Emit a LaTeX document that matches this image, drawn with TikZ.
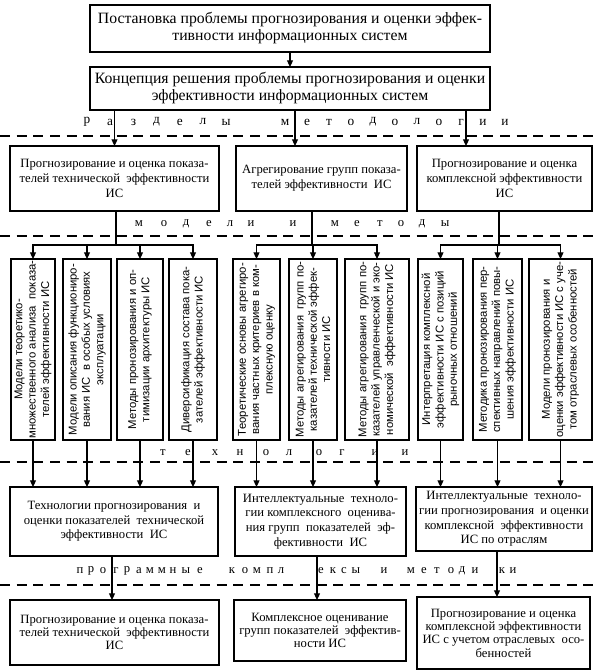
\documentclass[tikz,border=0pt]{standalone}
\usepackage{fontspec}
\setmainfont{Liberation Serif}
\setsansfont{Liberation Sans}
\usetikzlibrary{arrows.meta}
\begin{document}
\begin{tikzpicture}[x=0.75pt,y=-0.75pt,
  box/.style={draw, line width=0.8pt, inner sep=0pt, outer sep=0pt, align=center,
    font=\fontsize{9.5}{11.25}\selectfont},
  topbox/.style={box, font=\fontsize{11.8}{12.75}\selectfont, minimum width=300pt},
  tallbox/.style={draw, line width=0.8pt, inner sep=0pt, outer sep=0pt, minimum height=135.75pt},
  talltext/.style={rotate=90, align=center, font=\sffamily\fontsize{8.5}{10}\selectfont, inner sep=0pt},
  conn/.style={line width=0.8pt},
  arr/.style={conn, -{Triangle[length=5pt,width=4.5pt]}},
  sep/.style={line width=1.5pt, dash pattern=on 7.5pt off 5pt},
  lbl/.style={font=\fontsize{9.5}{10}\selectfont, inner sep=0pt}]
\useasboundingbox (0,0) rectangle (597,671);

% separators
\coordinate (s1l) at (0,136);  \coordinate (s1r) at (597,136);
\coordinate (s2l) at (0,236);  \coordinate (s2r) at (597,236);
\coordinate (s3l) at (0,462);  \coordinate (s3r) at (597,462);
\coordinate (s4l) at (0,585);  \coordinate (s4r) at (597,585);
\draw[sep] (s1l) -- (s1r);
\draw[sep] (s2l) -- (s2r);
\draw[sep] (s3l) -- (s3r);
\draw[sep] (s4l) -- (s4r);

% top boxes
\node[topbox, minimum height=35.25pt] (b1) at (290,28.5)
  {Постановка проблемы прогнозирования и оценки эффек-\\тивности информационных систем};
\node[topbox, minimum height=32.25pt] (b2) at (290,88.5)
  {Концепция решения проблемы прогнозирования и оценки\\эффективности информационных систем};

% row 2
\node[box, minimum width=156.75pt, minimum height=48.75pt] (A) at (114.5,178.5)
  {Прогнозирование и оценка показа-\\телей технической \ эффективности\\ИС};
\node[box, minimum width=128.25pt, minimum height=48.75pt] (B) at (321.5,178.5)
  {Агрегирование групп показа-\\телей эффективности \ ИС};
\node[box, minimum width=131.25pt, minimum height=48.75pt] (C) at (504.5,178.5)
  {Прогнозирование и оценка\\комплексной эффективности\\ИС};

% tall boxes
\node[tallbox, minimum width=33pt]    (t1)  at (33,349.5) {};
\node[tallbox, minimum width=36pt]    (t2)  at (87,349.5) {};
\node[tallbox, minimum width=34.5pt]  (t3)  at (140,349.5) {};
\node[tallbox, minimum width=36pt]    (t4)  at (193,349.5) {};
\node[tallbox, minimum width=35.25pt] (t5)  at (256.5,349.5) {};
\node[tallbox, minimum width=36pt]    (t6)  at (313,349.5) {};
\node[tallbox, minimum width=48pt]    (t7)  at (377,349.5) {};
\node[tallbox, minimum width=33.75pt] (t8)  at (440.5,349.5) {};
\node[tallbox, minimum width=36.75pt] (t9)  at (497.5,349.5) {};
\node[tallbox, minimum width=47.25pt] (t10) at (560.5,349.5) {};

\node[talltext] (x1) at (t1) {Модели теоретико-\\множественного анализа \ показа-\\телей эффективности ИС};
\node[talltext] (x2) at (t2) {Модели описания функциониро-\\вания ИС \ в особых условиях\\эксплуатации};
\node[talltext] (x3) at (t3) {Методы пронозирования и оп-\\тимизации архитектуры ИС};
\node[talltext] (x4) at (t4) {Диверсификация состава пока-\\зателей эффективности ИС};
\node[talltext] (x5) at (t5) {Теоретические основы агрегиро-\\вания частных критериев в ком-\\плексную оценку};
\node[talltext] (x6) at (t6) {Методы агрегирования \ групп по-\\казателей технической эффек-\\тивности ИС};
\node[talltext] (x7) at (t7) {Методы агрегирования \ групп по-\\казателей управленческой и эко-\\номической \ эффективности ИС};
\node[talltext] (x8) at (t8) {Интерпретация комплексной\\эффективности ИС с позиций\\рыночных отношений};
\node[talltext] (x9) at (t9) {Методика пронозирования пер-\\спективных направлений повы-\\шения эффективности ИС};
\node[talltext] (x10) at (t10) {Модели пронозирования и\\оценки эффективности ИС с уче-\\том отраслевых особенностей};

% row 4
\node[box, minimum width=156pt, minimum height=51.75pt, font=\fontsize{9.5}{11}\selectfont] (D) at (114,521.5)
  {Технологии прогнозирования \ и\\оценки показателей \ технической\\эффективности \ ИС};
\node[box, minimum width=128.25pt, minimum height=51.75pt, font=\fontsize{9.5}{11}\selectfont] (E) at (320.5,521.5)
  {Интеллектуальные \ техноло-\\гии комплексного \ оценива-\\ния групп \ показателей \ эф-\\фективности \ ИС};
\node[box, minimum width=132pt, minimum height=48pt, font=\fontsize{9.5}{11}\selectfont] (F) at (504,519)
  {Интеллектуальные \ техноло-\\гии прогнозирования \ и оценки\\комплексной \ эффективности\\ИС по отраслям};

% bottom row
\node[box, minimum width=156.75pt, minimum height=48.75pt, font=\fontsize{9.5}{10}\selectfont] (G) at (114.5,632.5)
  {Прогнозирование и оценка показа-\\телей технической \ эффективности\\ИС};
\node[box, minimum width=129pt, minimum height=45.75pt, font=\fontsize{9.5}{10}\selectfont] (H) at (320,630.5)
  {Комплексное оценивание\\групп показателей \ эффектив-\\ности ИС};
\node[box, minimum width=129.75pt, minimum height=54pt, font=\fontsize{9.5}{10}\selectfont] (I) at (503.5,633)
  {Прогнозирование и оценка\\комплексной эффективности\\ИС с учетом отраслевых \ осо-\\бенностей};

% connector helper coordinates
\coordinate (cB) at (295,0);
\coordinate (cC) at (466,0);
\coordinate (jA) at (116,245);
\coordinate (jB) at (312,245);
\coordinate (jC) at (499,245);
\coordinate (jD) at (112,0);
\coordinate (jE) at (317,0);
\coordinate (jF) at (497,0);

% connectors
\draw[arr] (b1.south) -- (b2.north);
\draw[arr] (b2.south -| A.north) -- (A.north);
\draw[arr] (b2.south -| cB) -- (B.north -| cB);
\draw[arr] (b2.south -| cC) -- (C.north -| cC);

\draw[conn] (A.south -| jA) -- (jA);
\draw[arr] (jA) -| (t1.north);
\draw[arr] (jA) -| (t4.north);
\draw[arr] (jA -| t2.north) -- (t2.north);
\draw[arr] (jA -| t3.north) -- (t3.north);

\draw[conn] (B.south -| jB) -- (jB);
\draw[arr] (jB) -| (t5.north);
\draw[arr] (jB) -| (t7.north);
\draw[arr] (jB -| t6.north) -- (t6.north);

\draw[conn] (C.south -| jC) -- (jC);
\draw[arr] (jC) -| (t8.north);
\draw[arr] (jC) -| (t10.north);
\draw[arr] (jC -| t9.north) -- (t9.north);

\draw[arr] (t1.south) -- (t1.south |- D.north);
\draw[arr] (t2.south) -- (t2.south |- D.north);
\draw[arr] (t3.south) -- (t3.south |- D.north);
\draw[arr] (t4.south) -- (t4.south |- D.north);
\draw[arr] (t5.south) -- (t5.south |- E.north);
\draw[arr] (t6.south) -- (t6.south |- E.north);
\draw[arr] (t7.south) -- (t7.south |- E.north);
\draw[arr] (t8.south) -- (t8.south |- F.north);
\draw[arr] (t9.south) -- (t9.south |- F.north);
\draw[arr] (t10.south) -- (t10.south |- F.north);

\draw[arr] (D.south -| jD) -- (G.north -| jD);
\draw[arr] (E.south -| jE) -- (H.north -| jE);
\draw[arr] (F.south -| jF) -- (I.north -| jF);

% spaced labels
\foreach \c [count=\i from 0] in {р,а,з,д,е,л,ы}
  \node[lbl, font=\fontsize{10}{10}\selectfont] (la\i) at (87+23.2*\i,122) {\c};
\foreach \c [count=\i from 0] in {м,е,т,о,д,о,л,о,г,и,и}
  \node[lbl, font=\fontsize{10}{10}\selectfont] (lb\i) at (285+22*\i,122) {\c};

\foreach \c/\p [count=\i] in {м/139,о/164,д/186,е/209,л/230,и/251,и/293,м/335,е/357,т/380,о/401,д/422,ы/445}
  \node[lbl] (lc\i) at (\p,224) {\c};

\foreach \c/\p [count=\i] in {т/163,е/188,х/215,н/240,о/266,л/289,о/319,г/342,и/375,и/405}
  \node[lbl] (ld\i) at (\p,453) {\c};

\foreach \c/\p [count=\i] in {п/80,р/91,о/103,г/116,р/127,а/139,м/150,м/162,н/173,ы/186,е/200,к/232,о/245,м/257,п/270,л/281,е/321,к/333,с/344,ы/356,и/384,м/411,е/424,т/437,о/451,д/462,и/475,к/502,и/513}
  \node[lbl] (le\i) at (\p,571) {\c};
\end{tikzpicture}
\end{document}
